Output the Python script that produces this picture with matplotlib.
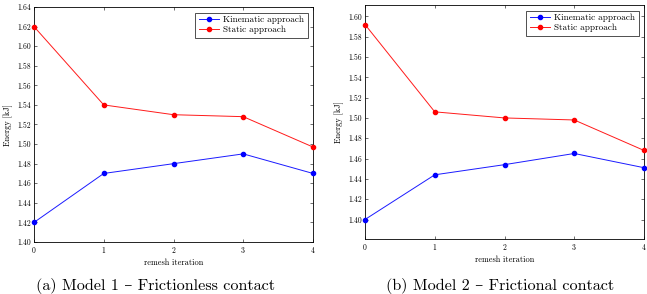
import matplotlib
matplotlib.use("Agg")
import matplotlib.pyplot as plt
import numpy as np

plt.rcParams['font.family'] = ['cmr10', 'DejaVu Serif']
plt.rcParams['mathtext.fontset'] = 'cm'
plt.rcParams['axes.formatter.use_mathtext'] = True

iterations = [0, 1, 2, 3, 4]
m1_kinematic = [1.42, 1.47, 1.48, 1.49, 1.47]
m1_static = [1.62, 1.54, 1.53, 1.528, 1.497]
m2_kinematic = [1.40, 1.444, 1.454, 1.465, 1.451]
m2_static = [1.592, 1.506, 1.500, 1.498, 1.468]

captions = ["(a) Model 1 – Frictionless contact", "(b) Model 2 – Frictional contact"]
y_ticks_1 = [1.40, 1.42, 1.44, 1.46, 1.48, 1.50, 1.52, 1.54, 1.56, 1.58, 1.60, 1.62, 1.64]
y_ticks_2 = [1.40, 1.42, 1.44, 1.46, 1.48, 1.50, 1.52, 1.54, 1.56, 1.58, 1.60]

fig = plt.figure(figsize=(6.47, 2.94), dpi=100)
ax1 = fig.add_axes([34/647, 1-242/294, 279/647, 235/294])
ax2 = fig.add_axes([365/647, 1-239/294, 279/647, 234/294])

def style(ax, kin, sta, yticks, ylim, caption, cx):
    ax.plot(iterations, kin, color='#1a1aff', marker='o', ms=3.0, mfc='#0000ff', mec='#0000ff', lw=0.7, label='Kinematic approach', clip_on=False, zorder=3)
    ax.plot(iterations, sta, color='#ff1a1a', marker='o', ms=3.0, mfc='#ff0000', mec='#ff0000', lw=0.7, label='Static approach', clip_on=False, zorder=3)
    ax.set_xlim(0, 4)
    ax.set_ylim(*ylim)
    ax.set_xticks(iterations)
    ax.set_yticks(yticks)
    ax.set_yticklabels([f"{v:.2f}" for v in yticks])
    ax.tick_params(direction='in', top=True, right=True, labelsize=5.5, length=2.5, width=0.4, pad=2)
    for s in ax.spines.values():
        s.set_linewidth(0.6)
    ax.set_xlabel('remesh iteration', fontsize=6, labelpad=3)
    ax.set_ylabel('Energy [kJ]', fontsize=6, labelpad=3)
    leg = ax.legend(loc='upper right', fontsize=6.6, frameon=True, fancybox=False,
                    edgecolor='black', borderpad=0.35, handlelength=2.2, labelspacing=0.2,
                    handletextpad=0.5, borderaxespad=0.6)
    leg.get_frame().set_linewidth(0.6)
    fig.text(cx, 1-286/294, caption, fontsize=11.6, ha='center', va='center')

style(ax1, m1_kinematic, m1_static, y_ticks_1, (1.40, 1.64), captions[0], 155/647)
style(ax2, m2_kinematic, m2_static, y_ticks_2, (1.3808, 1.6112), captions[1], 500/647)

fig.savefig('out.png', dpi=100)
